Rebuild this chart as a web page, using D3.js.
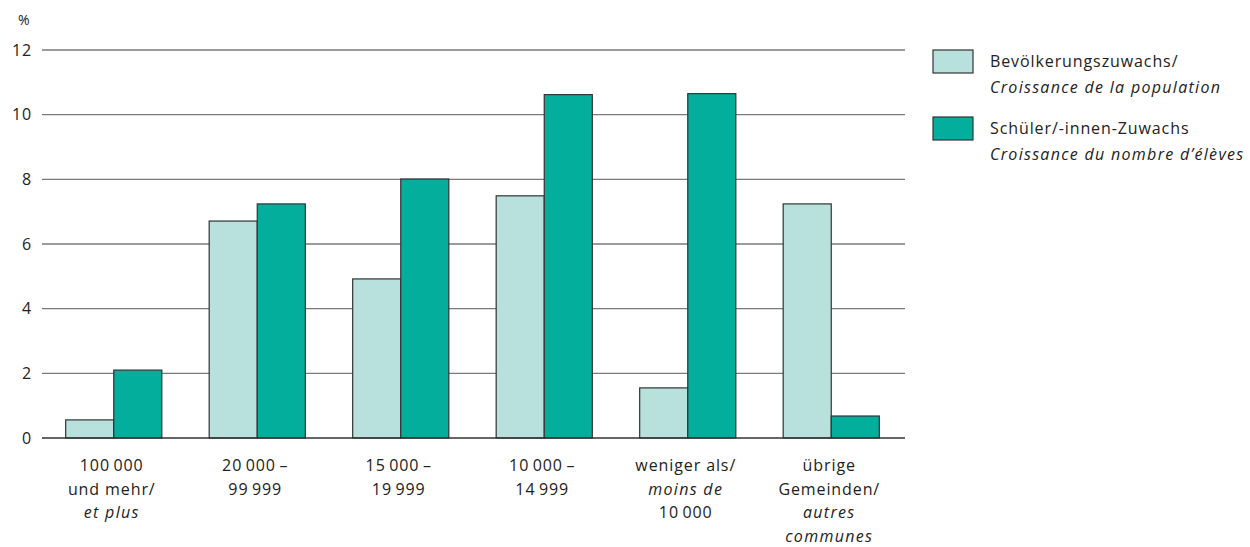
<!DOCTYPE html>
<html>
<head>
<meta charset="utf-8">
<script src="https://cdn.jsdelivr.net/npm/d3@7"></script>
<style>
  body { margin: 0; background: #fff; }
  svg text { font-family: "Open Sans", "Noto Sans", sans-serif; fill: #222; letter-spacing: 0.9px; }
  svg tspan.it { font-style: italic; letter-spacing: 1.3px; }
</style>
</head>
<body>
<div id="chart"></div>
<script>
// categories: each label is a list of [text, italic] lines
var CATEGORIES = [
  [["100\u2009000", false], ["und mehr/", false], ["et plus", true]],
  [["20\u2009000\u2009\u2013", false], ["99\u2009999", false]],
  [["15\u2009000\u2009\u2013", false], ["19\u2009999", false]],
  [["10\u2009000\u2009\u2013", false], ["14\u2009999", false]],
  [["weniger als/", false], ["moins de", true], ["10\u2009000", false]],
  [["übrige", false], ["Gemeinden/", false], ["autres", true], ["communes", true]]
];
var POPULATION = [0.56, 6.71, 4.92, 7.49, 1.55, 7.24];
var PUPILS = [2.1, 7.24, 8.01, 10.62, 10.65, 0.68];
var Y_TICKS = [0, 2, 4, 6, 8, 10, 12];
var SERIES = [
  { name: ["Bevölkerungszuwachs/", "Croissance de la population"], values: POPULATION, color: "#b8e0dc" },
  { name: ["Schüler/-innen-Zuwachs", "Croissance du nombre d\u2019élèves"], values: PUPILS, color: "#03ae9d" }
];

var W = 1250, H = 547;
var svg = d3.select("#chart").append("svg")
  .attr("width", W)
  .attr("height", H);

var x = d3.scaleBand()
  .domain(d3.range(CATEGORIES.length))
  .range([42, 903])
  .paddingInner(0.33)
  .paddingOuter(0.165);
var x1 = d3.scaleBand()
  .domain(d3.range(SERIES.length))
  .range([0, x.bandwidth()]);
var y = d3.scaleLinear().domain([0, 12]).range([438, 50]);

// grid lines
svg.append("g").selectAll("line")
  .data(Y_TICKS.filter(function(d) { return d > 0; }))
  .enter().append("line")
  .attr("x1", 42).attr("x2", 905)
  .attr("y1", function(d) { return y(d); })
  .attr("y2", function(d) { return y(d); })
  .style("stroke", "#7a7a7a")
  .style("stroke-width", 1.3);

// y tick labels
svg.append("g").selectAll("text")
  .data(Y_TICKS)
  .enter().append("text")
  .attr("x", 32)
  .attr("y", function(d) { return y(d); })
  .attr("dy", "0.36em")
  .attr("text-anchor", "end")
  .style("font-size", "16px")
  .text(function(d) { return d; });

svg.append("text")
  .attr("x", 18).attr("y", 25)
  .style("font-size", "14px")
  .text("%");

// bars
SERIES.forEach(function(s, si) {
  svg.append("g").selectAll("rect")
    .data(s.values)
    .enter().append("rect")
    .attr("x", function(d, i) { return x(i) + x1(si); })
    .attr("y", function(d) { return y(d); })
    .attr("width", x1.bandwidth())
    .attr("height", function(d) { return y(0) - y(d); })
    .style("fill", s.color)
    .style("stroke", "#333")
    .style("stroke-width", 1.2);
});

// baseline
svg.append("line")
  .attr("x1", 42).attr("x2", 905)
  .attr("y1", y(0)).attr("y2", y(0))
  .style("stroke", "#333")
  .style("stroke-width", 1.5);

// x labels
var xl = svg.append("g").selectAll("text")
  .data(CATEGORIES)
  .enter().append("text")
  .attr("text-anchor", "middle")
  .style("font-size", "16px");
xl.each(function(lines, i) {
  var t = d3.select(this);
  lines.forEach(function(l, j) {
    t.append("tspan")
      .attr("x", x(i) + x.bandwidth() / 2 - 2)
      .attr("y", 471 + j * 23.5)
      .attr("class", l[1] ? "it" : null)
      .text(l[0]);
  });
});

// legend
var lg = svg.append("g").selectAll("g")
  .data(SERIES)
  .enter().append("g")
  .attr("transform", function(d, i) { return "translate(933," + (50 + i * 67) + ")"; });
lg.append("rect")
  .attr("width", 40).attr("height", 23)
  .style("fill", function(d) { return d.color; })
  .style("stroke", "#333")
  .style("stroke-width", 1.2);
lg.append("text")
  .style("font-size", "16px")
  .selectAll("tspan")
  .data(function(d) { return d.name; })
  .enter().append("tspan")
  .attr("x", 57)
  .attr("y", function(d, j) { return 17 + j * 26; })
  .attr("class", function(d, j) { return j === 1 ? "it" : null; })
  .text(function(d) { return d; });
</script>
</body>
</html>
